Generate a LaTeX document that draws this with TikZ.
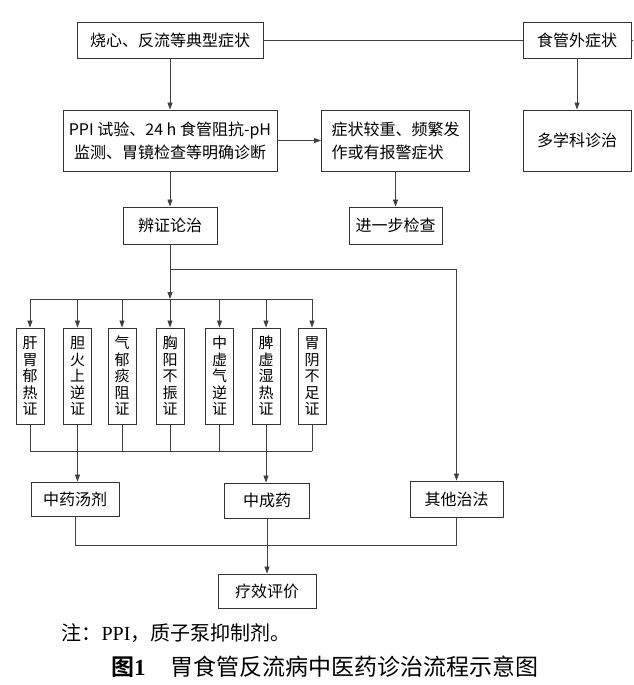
\documentclass[tikz,border=0pt]{standalone}
\usepackage{fontspec}
\setmainfont{Noto Sans CJK SC}[BoldFont={Noto Sans CJK SC Bold}]
\newfontfamily\latinserif{Liberation Serif}
\usetikzlibrary{arrows.meta}

\tikzset{
  box/.style={draw=black!80, line width=0.9pt, inner sep=0pt, align=center,
    font=\fontsize{16}{23}\selectfont},
  synbox/.style={box, minimum width=28pt, minimum height=96pt,
    font=\fontsize{15}{16.5}\selectfont},
  link/.style={draw=black!75, line width=0.8pt},
  arr/.style={link, -{Triangle[length=7pt,width=5pt]}},
}

\begin{document}
\begin{tikzpicture}[x=1pt, y=-1pt]
  \useasboundingbox (0,0) rectangle (633,685);

  \node[box, minimum width=186pt, minimum height=36pt] (typical) at (170,40) {烧心、反流等典型症状};
  \node[box, minimum width=108pt, minimum height=36pt] (extra) at (577,40) {食管外症状};
  \coordinate (cut) at (633,40);
  \node[box, minimum width=214pt, minimum height=61pt] (diag) at (170,140.5)
    {PPI 试验、24 h 食管阻抗-pH\\监测、胃镜检查等明确诊断};
  \node[box, minimum width=148pt, minimum height=61pt, align=left] (severe) at (395.5,140.5)
    {症状较重、频繁发\\作或有报警症状};
  \node[box, minimum width=108pt, minimum height=61pt] (mdt) at (577,140.5) {多学科诊治};
  \node[box, minimum width=94pt, minimum height=37pt] (bianzheng) at (170,225.5) {辨证论治};
  \node[box, minimum width=93pt, minimum height=37pt] (further) at (395.5,225.5) {进一步检查};

  \coordinate (turn) at (170,269);
  \coordinate (split) at (170,299);
  \coordinate (join) at (170,451);
  \coordinate (merge) at (170,545);

  \foreach \x/\t [count=\i] in {30/{肝\\胃\\郁\\热\\证}, 77.5/{胆\\火\\上\\逆\\证},
      122/{气\\郁\\痰\\阻\\证}, 170/{胸\\阳\\不\\振\\证}, 219.5/{中\\虚\\气\\逆\\证},
      266/{脾\\虚\\湿\\热\\证}, 312/{胃\\阴\\不\\足\\证}}
    \node[synbox] (syn\i) at (\x,376) {\t};

  \node[box, minimum width=88pt, minimum height=34pt] (decoction) at (75,499) {中药汤剂};
  \node[box, minimum width=85pt, minimum height=35pt] (patent) at (267,500.5) {中成药};
  \node[box, minimum width=93pt, minimum height=36pt] (other) at (456.5,499) {其他治法};
  \node[box, minimum width=98pt, minimum height=34pt] (effect) at (267,591) {疗效评价};

  \node[anchor=west, font=\fontsize{20}{20}\selectfont] (note) at (58,633)
    {注：{\latinserif PPI}，质子泵抑制剂。};
  \node[font=\fontsize{23}{23}\selectfont] (caption) at (325,667)
    {{\bfseries 图{\latinserif 1}}\hspace{1.1em}胃食管反流病中医药诊治流程示意图};

  \draw[link] (typical) -- (extra);
  \draw[link] (extra) -- (cut);
  \draw[arr] (typical) -- (diag);
  \draw[arr] (extra) -- (mdt);
  \draw[arr] (diag) -- (severe);
  \draw[arr] (severe) -- (further);
  \draw[arr] (diag) -- (bianzheng);
  \draw[arr] (bianzheng) -- (split);
  \draw[arr] (turn) -| (other);

  \draw[link] (syn1 |- split) -- (syn7 |- split);
  \draw[link] (syn1 |- join) -- (syn7 |- join);
  \foreach \i in {1,...,7} {
    \draw[arr] (syn\i |- split) -- (syn\i);
    \draw[link] (syn\i) -- (syn\i |- join);
  }
  \draw[arr] (syn2 |- join) -- (syn2 |- decoction.north);
  \draw[arr] (syn6 |- join) -- (syn6 |- patent.north);

  \draw[link] (decoction) -- (decoction |- merge) -- (other |- merge) -- (other);
  \draw[arr] (patent) -- (effect);
\end{tikzpicture}
\end{document}
